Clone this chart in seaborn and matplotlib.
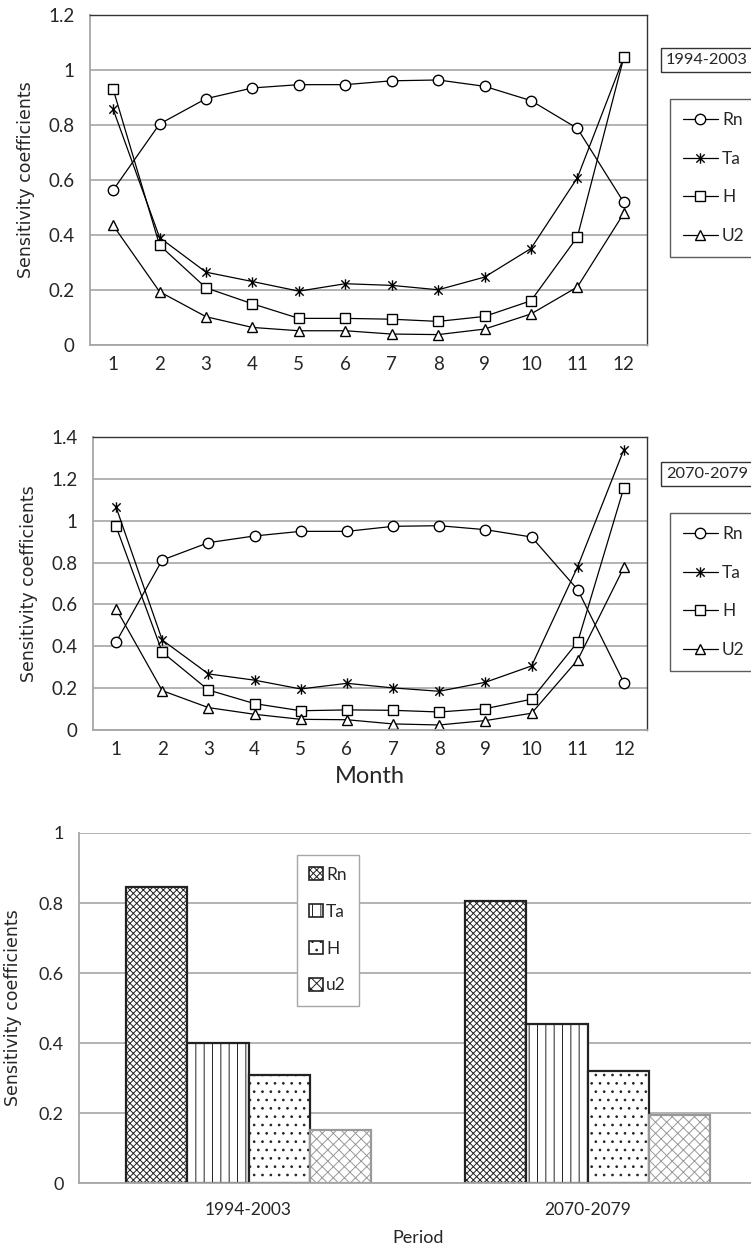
"""
Sensitivity coefficients of ET0 to Rn, Ta, H and U2
monthly curves for two periods plus the period means as bars
"""

import numpy as np
import pandas as pd
import matplotlib
matplotlib.use('Agg')
import matplotlib.pyplot as plt
import matplotlib.path as mpath
from matplotlib.lines import Line2D
from matplotlib.patches import Patch
import seaborn as sns

months = list(range(1, 13))
variables = ['Rn', 'Ta', 'H', 'U2']

# 1994-2003
rn_p1 = [0.564, 0.804, 0.896, 0.935, 0.947, 0.947, 0.961, 0.964, 0.941, 0.889, 0.788, 0.519]
ta_p1 = [0.857, 0.391, 0.265, 0.231, 0.196, 0.223, 0.217, 0.201, 0.247, 0.351, 0.608, 1.046]
h_p1 = [0.930, 0.363, 0.208, 0.150, 0.097, 0.097, 0.094, 0.086, 0.104, 0.161, 0.393, 1.046]
u2_p1 = [0.435, 0.194, 0.103, 0.064, 0.052, 0.052, 0.040, 0.038, 0.058, 0.113, 0.211, 0.479]

# 2070-2079
rn_p2 = [0.420, 0.812, 0.895, 0.927, 0.949, 0.949, 0.973, 0.976, 0.957, 0.922, 0.670, 0.226]
ta_p2 = [1.065, 0.430, 0.268, 0.238, 0.196, 0.223, 0.201, 0.185, 0.228, 0.306, 0.781, 1.340]
h_p2 = [0.973, 0.372, 0.191, 0.126, 0.092, 0.096, 0.094, 0.086, 0.102, 0.147, 0.421, 1.158]
u2_p2 = [0.580, 0.188, 0.107, 0.075, 0.051, 0.049, 0.029, 0.024, 0.045, 0.080, 0.335, 0.777]

# period means
periods = ['1994-2003', '2070-2079']
bar_vars = ['Rn', 'Ta', 'H', 'u2']
bar_rn = [0.845, 0.806]
bar_ta = [0.401, 0.454]
bar_h = [0.310, 0.320]
bar_u2 = [0.152, 0.195]

narrow = ['Lato', 'DejaVu Sans']
wide = ['DejaVu Sans']

sns.set_style('white')
plt.rcParams['font.family'] = narrow
plt.rcParams['hatch.linewidth'] = 0.7
plt.rcParams['hatch.color'] = '#444444'

# asterisk like excel: X with a vertical bar
star = mpath.Path([(0, -1), (0, 1), (-0.8, -0.8), (0.8, 0.8), (-0.8, 0.8), (0.8, -0.8)],
                  [1, 2, 1, 2, 1, 2])
marker_map = {'Rn': 'o', 'Ta': star, 'H': 's', 'U2': '^'}
grid_c = '#a6a6a6'


def long_df(rn, ta, h, u2):
    df = pd.DataFrame({'month': months, 'Rn': rn, 'Ta': ta, 'H': h, 'U2': u2})
    return df.melt(id_vars='month', var_name='var', value_name='coef')


def line_panel(ax, df, ymax, period, box_y, leg_y):
    sns.lineplot(data=df, x='month', y='coef', style='var', hue='var',
                 style_order=variables, hue_order=variables,
                 palette=['black'] * 4, markers=marker_map, dashes=False,
                 ax=ax, legend=False, lw=0.9, ms=7.5)
    for ln in ax.lines:
        ln.set_markerfacecolor('white')
        ln.set_markeredgecolor('black')
        ln.set_markeredgewidth(1.0)
    ax.set_xlim(0.5, 12.5)
    ax.set_ylim(0, ymax)
    ticks = np.arange(0, ymax + 0.01, 0.2)
    ax.set_yticks(ticks)
    ax.set_yticklabels(['0' if v == 0 else ('1' if abs(v - 1) < 1e-9 else f'{v:.1f}')
                        for v in ticks])
    ax.set_xticks(months)
    ax.set_xticks(np.arange(0.5, 13, 1), minor=True)
    ax.tick_params(axis='x', which='major', length=0, labelsize=13.5, pad=8)
    ax.tick_params(axis='x', which='minor', length=5, color=grid_c, width=1.2)
    ax.tick_params(axis='y', length=5, color=grid_c, width=1.2, labelsize=13.5, pad=6)
    ax.yaxis.grid(True, color=grid_c, lw=1.2)
    ax.set_axisbelow(True)
    for s in ['left', 'bottom']:
        ax.spines[s].set_color(grid_c)
        ax.spines[s].set_linewidth(1.3)
    for s in ['top', 'right']:
        ax.spines[s].set_color('#333333')
        ax.spines[s].set_linewidth(1.0)
    ax.set_ylabel('Sensitivity coefficients', family=wide, fontsize=12.5, labelpad=10)
    ax.set_xlabel('')
    fig.text(0.8865, box_y, period, fontsize=11.8, va='center', ha='left',
             bbox=dict(boxstyle='square,pad=0.3', fc='white', ec='#333333', lw=1))
    handles = [Line2D([], [], color='black', lw=0.9, marker=marker_map[v], ms=7.5,
                      mfc='white', mec='black', mew=1.0) for v in variables]
    leg = fig.legend(handles, variables, loc='upper left', bbox_to_anchor=(0.892, leg_y),
                     frameon=True, fontsize=12.5, handlelength=2.0, labelspacing=1.3,
                     borderpad=0.75, handletextpad=0.25, fancybox=False, borderaxespad=0)
    leg.get_frame().set_edgecolor('#333333')
    leg.get_frame().set_linewidth(1.0)


fig = plt.figure(figsize=(7.51, 12.47), dpi=100)

ax1 = fig.add_axes([0.1198, 0.7233, 0.7417, 0.2646])
line_panel(ax1, long_df(rn_p1, ta_p1, h_p1, u2_p1), 1.2, '1994-2003',
           1 - 60 / 1247, 1 - 99 / 1247)

ax2 = fig.add_axes([0.1238, 0.4146, 0.7377, 0.235])
line_panel(ax2, long_df(rn_p2, ta_p2, h_p2, u2_p2), 1.4, '2070-2079',
           1 - 474 / 1247, 1 - 513 / 1247)
ax2.set_xlabel('Month', fontsize=17, labelpad=6)

# bar chart of period means
ax3 = fig.add_axes([0.1052, 0.0513, 0.9028, 0.2807])
bars = pd.DataFrame({'period': periods, 'Rn': bar_rn, 'Ta': bar_ta, 'H': bar_h, 'u2': bar_u2})
bars = bars.melt(id_vars='period', var_name='var', value_name='coef')
sns.barplot(data=bars, x='period', y='coef', hue='var', hue_order=bar_vars,
            palette=['white'] * 4, edgecolor='#222222', linewidth=1.6,
            width=0.723, gap=0, ax=ax3, legend=False)
hatches = ['xxxxx', '||', '..', 'xxx']
edge_c = ['#222222', '#222222', '#222222', '#999999']
for cont, hatch, ec in zip(ax3.containers, hatches, edge_c):
    for p in cont:
        p.set_hatch(hatch)
        p.set_edgecolor(ec)
ax3.set_xlim(-0.5, 1.5)
ax3.set_ylim(0, 1)
ax3.set_yticks(np.arange(0, 1.01, 0.2))
ax3.set_yticklabels(['0', '0.2', '0.4', '0.6', '0.8', '1'])
ax3.set_xticks([0.5], minor=True)
ax3.tick_params(axis='x', which='major', length=0, labelsize=12.5, pad=14)
ax3.tick_params(axis='x', which='minor', length=5, color=grid_c, width=1.2)
ax3.tick_params(axis='y', length=5, color=grid_c, width=1.2, labelsize=13, pad=6)
ax3.yaxis.grid(True, color=grid_c, lw=1.2)
ax3.set_axisbelow(True)
ax3.spines['top'].set_visible(False)
ax3.spines['right'].set_visible(False)
for s in ['left', 'bottom']:
    ax3.spines[s].set_color(grid_c)
    ax3.spines[s].set_linewidth(1.3)
ax3.set_ylabel('Sensitivity coefficients', family=wide, fontsize=12.5, labelpad=12)
ax3.set_xlabel('Period', fontsize=13, labelpad=8)

bar_handles = [Patch(fc='white', ec='#222222', hatch=h, lw=1.2) for h in hatches]
leg3 = ax3.legend(bar_handles, bar_vars, loc='upper left', bbox_to_anchor=(0.321, 0.938),
                  frameon=True, fontsize=12.5, handlelength=0.8, handleheight=0.8,
                  labelspacing=1.2, borderpad=0.7, handletextpad=0.2, fancybox=False,
                  borderaxespad=0)
leg3.get_frame().set_edgecolor(grid_c)
leg3.get_frame().set_linewidth(1.0)
leg3.get_frame().set_alpha(1)

fig.savefig('out.png', dpi=100)
